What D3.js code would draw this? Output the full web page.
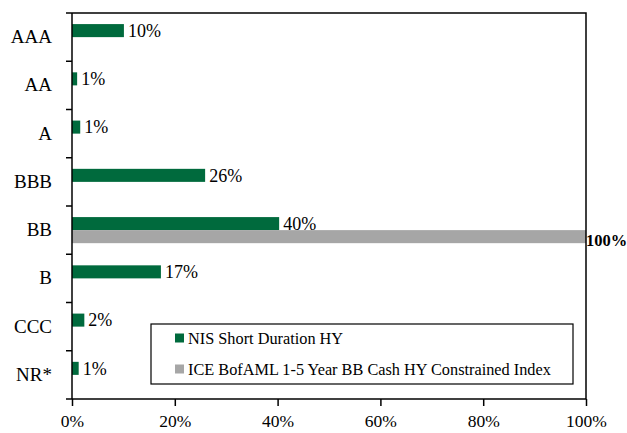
<!DOCTYPE html>
<html>
<head>
<meta charset="utf-8">
<script src="https://cdn.jsdelivr.net/npm/d3@7"></script>
<style>
  body { margin: 0; background: #fff; }
  svg { display: block; font-family: "Liberation Serif", "DejaVu Serif", serif; }
</style>
</head>
<body>
<div id="chart"></div>
<script>
// Credit quality categories
const categories = ["AAA", "AA", "A", "BBB", "BB", "B", "CCC", "NR*"];
const seriesNames = ["NIS Short Duration HY", "ICE BofAML 1-5 Year BB Cash HY Constrained Index"];

// Values (% of portfolio)
const fundValues = [10.1, 1.0, 1.6, 25.9, 40.3, 17.3, 2.4, 1.3];
const fundLabels = ["10%", "1%", "1%", "26%", "40%", "17%", "2%", "1%"];
const indexValues = [0, 0, 0, 0, 100, 0, 0, 0];
const indexLabels = ["", "", "", "", "100%", "", "", ""];

const xTicks = [0, 20, 40, 60, 80, 100];

const width = 627, height = 433;
const margin = { top: 13, right: 41, bottom: 34, left: 72 };
const colors = ["#006a3d", "#a6a6a6"];

const svg = d3.select("#chart").append("svg")
  .attr("width", width)
  .attr("height", height);

const x = d3.scaleLinear().domain([0, 100]).range([margin.left, width - margin.right]);
const y = d3.scaleBand().domain(categories).range([margin.top, height - margin.bottom]).padding(0);
const inner = d3.scaleBand().domain(seriesNames).range([0, y.bandwidth()]).paddingInner(0).paddingOuter(0.85);

const rows = categories.map((c, i) => ({
  cat: c,
  vals: [
    { s: seriesNames[0], v: fundValues[i], label: fundLabels[i], k: 0 },
    { s: seriesNames[1], v: indexValues[i], label: indexLabels[i], k: 1 }
  ]
}));

// bars
const g = svg.selectAll(".cat")
  .data(rows)
  .enter().append("g")
  .attr("transform", d => `translate(0,${y(d.cat)})`);

g.selectAll("rect")
  .data(d => d.vals.filter(v => v.v > 0))
  .enter().append("rect")
  .attr("x", x(0))
  .attr("y", d => inner(d.s))
  .attr("width", d => x(d.v) - x(0))
  .attr("height", inner.bandwidth())
  .attr("fill", d => colors[d.k]);

// value labels
g.selectAll("text")
  .data(d => d.vals.filter(v => v.label !== ""))
  .enter().append("text")
  .attr("x", d => x(d.v) + (d.k === 0 ? 4 : 0))
  .attr("y", d => inner(d.s) + inner.bandwidth() / 2 + (d.k === 0 ? 0 : 4))
  .attr("dy", "0.35em")
  .attr("font-size", d => d.k === 0 ? 18 : 16.5)
  .attr("font-weight", d => d.k === 1 ? "bold" : "normal")
  .attr("fill", "#000")
  .text(d => d.label);

// frame (top and right)
svg.append("path")
  .attr("d", `M${x(0)},${y.range()[0]}H${x(100)}V${y.range()[1]}`)
  .attr("fill", "none")
  .attr("stroke", "#000")
  .attr("stroke-width", 1.5);

// x axis
const xAxis = svg.append("g")
  .attr("transform", `translate(0,${y.range()[1]})`)
  .call(d3.axisBottom(x).tickValues(xTicks).tickSize(7).tickPadding(9).tickFormat(d => d + "%"))
  .attr("font-family", null)
  .attr("font-size", 17.5);
xAxis.select(".domain").attr("d", `M${x(0)},0H${x(100)}`).attr("stroke-width", 1.5);
xAxis.selectAll(".tick line").attr("stroke-width", 1.5);
xAxis.selectAll("text").attr("fill", "#000");

// y axis: labels centred in bands, ticks on band edges
const yAxis = svg.append("g")
  .attr("transform", `translate(${x(0)},0)`)
  .call(d3.axisLeft(y).tickSize(0).tickPadding(20))
  .attr("font-family", null)
  .attr("font-size", 19);
yAxis.select(".domain").remove();
yAxis.selectAll("text").attr("fill", "#000");

const edges = categories.map(c => y(c)).concat([y.range()[1]]);
svg.append("g").selectAll("line")
  .data(edges)
  .enter().append("line")
  .attr("x1", x(0) - 6).attr("x2", x(0))
  .attr("y1", d => d).attr("y2", d => d)
  .attr("stroke", "#000").attr("stroke-width", 1.5);
svg.append("line")
  .attr("x1", x(0)).attr("x2", x(0))
  .attr("y1", y.range()[0]).attr("y2", y.range()[1])
  .attr("stroke", "#000").attr("stroke-width", 1.5);

// legend
const lg = svg.append("g").attr("transform", "translate(151,324)");
lg.append("rect")
  .attr("width", 422).attr("height", 60)
  .attr("fill", "#fff").attr("stroke", "#000").attr("stroke-width", 1.2);
const item = lg.selectAll(".item")
  .data(seriesNames)
  .enter().append("g")
  .attr("transform", (d, i) => `translate(24,${14 + i * 31})`);
item.append("rect")
  .attr("width", 9).attr("height", 9).attr("y", -4.5)
  .attr("fill", (d, i) => colors[i]);
item.append("text")
  .attr("x", 13).attr("dy", "0.35em")
  .attr("font-size", 16.3)
  .text(d => d);
</script>
</body>
</html>
